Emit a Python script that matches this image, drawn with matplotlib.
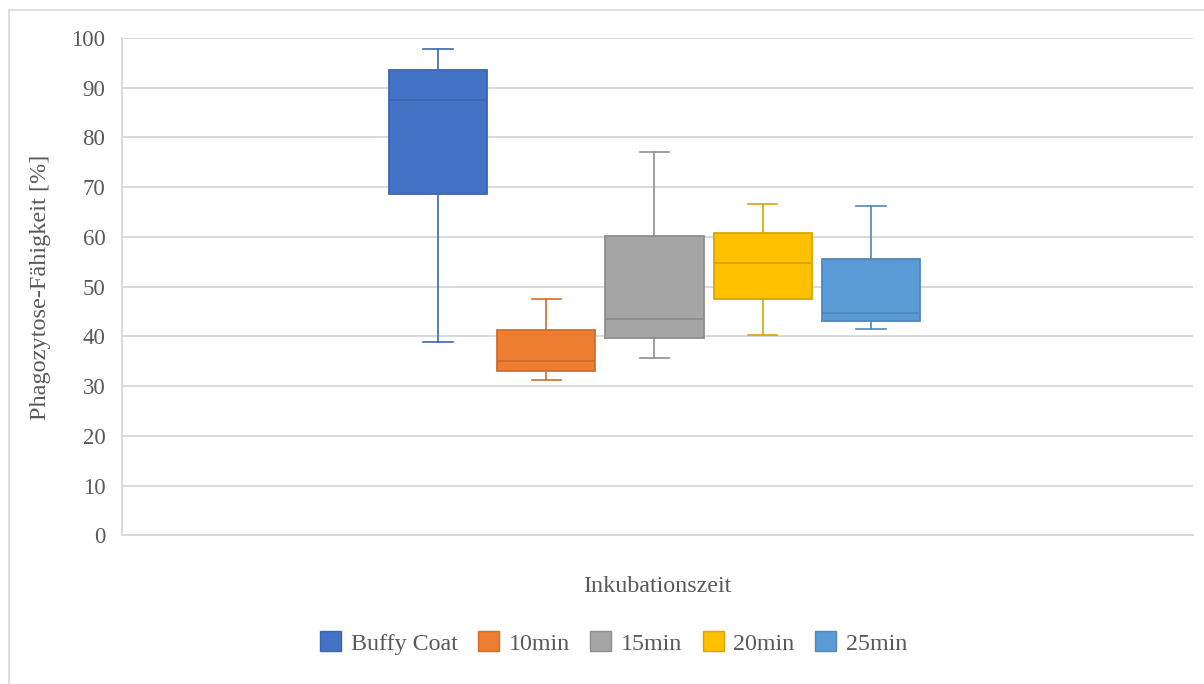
import matplotlib
matplotlib.use('Agg')
import matplotlib.pyplot as plt
from matplotlib.patches import Patch
from matplotlib.lines import Line2D

plt.rcParams['font.family'] = ['Liberation Serif', 'DejaVu Serif']

# five-number summaries per group
groups = ['Buffy Coat', '10min', '15min', '20min', '25min']
whis_low = [38.8, 31.2, 35.6, 40.3, 41.5]
q1 = [68.6, 33.0, 39.6, 47.5, 43.1]
median = [87.5, 35.0, 43.5, 54.7, 44.7]
q3 = [93.6, 41.3, 60.2, 60.7, 55.5]
whis_high = [97.8, 47.6, 77.0, 66.7, 66.3]

fills = ['#4472C4', '#ED7D31', '#A5A5A5', '#FFC000', '#5B9BD5']
edges = ['#3C65AF', '#D26E2B', '#8E8E8E', '#DBA500', '#4F88BC']
text_col = '#595959'
grid_col = '#D9D9D9'

fig = plt.figure(figsize=(12.04, 6.84), dpi=100)
ax = fig.add_axes([122/1204, 1-535.3/684, (1193-122)/1204, (535.3-38)/684])

for i, g in enumerate(groups):
    stats = [dict(label=g, whislo=whis_low[i], q1=q1[i], med=median[i],
                  q3=q3[i], whishi=whis_high[i], fliers=[])]
    ax.bxp(stats, positions=[i], widths=0.907, capwidths=0.27,
           patch_artist=True, manage_ticks=False,
           boxprops=dict(facecolor=fills[i], edgecolor=edges[i], linewidth=1.3),
           medianprops=dict(color=edges[i], linewidth=1.3),
           whiskerprops=dict(color=edges[i], linewidth=1.2),
           capprops=dict(color=edges[i], linewidth=1.2))

ax.set_xlim(-2.919, 6.975)
ax.set_ylim(0, 100)
ax.set_yticks(range(0, 101, 10))
ax.set_xticks([])
ax.yaxis.grid(True, color=grid_col, linewidth=1.4)
ax.set_axisbelow(True)
for s in ['top', 'right']:
    ax.spines[s].set_visible(False)
for s in ['left', 'bottom']:
    ax.spines[s].set_color(grid_col)
    ax.spines[s].set_linewidth(1.4)
ax.tick_params(axis='y', length=0, pad=12, labelsize=16.5, labelcolor=text_col)

fig.text(41/1204, 1-287/684, 'Phagozytose-Fähigkeit [%]', rotation=90,
         ha='center', va='center', fontsize=17.5, color=text_col)
fig.text(657/1204, 1-587/684, 'Inkubationszeit', ha='center', va='center',
         fontsize=17.3, color=text_col)

handles = [Patch(facecolor=fills[i], edgecolor=edges[i], linewidth=1.0, label=g)
           for i, g in enumerate(groups)]
fig.legend(handles=handles, loc='center', bbox_to_anchor=(613.5/1204, 1-643/684),
           ncol=5, frameon=False, fontsize=17.3, labelcolor=text_col,
           handlelength=0.875, handleheight=0.875, handletextpad=0.4, columnspacing=0.85)

# chart area frame
fig.add_artist(Line2D([9/1204, 9/1204], [0, 1-10/684], color=grid_col, linewidth=1.2))
fig.add_artist(Line2D([9/1204, 1], [1-10/684, 1-10/684], color=grid_col, linewidth=1.2))

fig.savefig('out.png', dpi=100)
